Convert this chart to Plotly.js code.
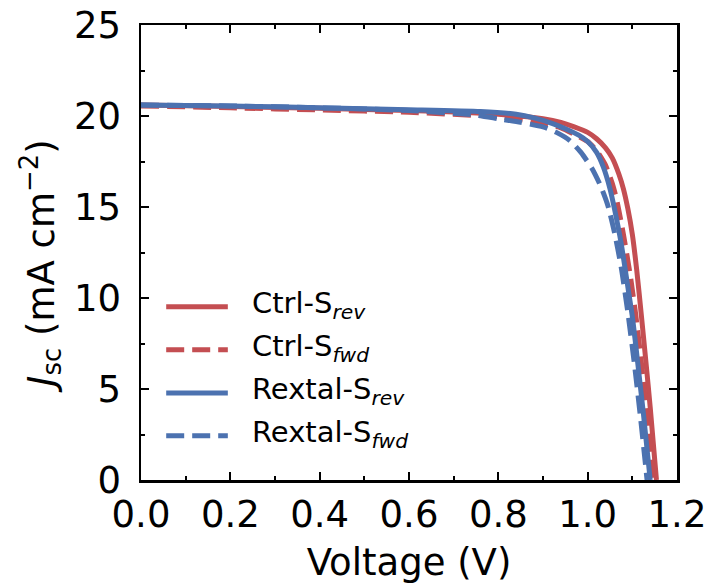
<!DOCTYPE html>
<html>
<head>
<meta charset="utf-8">
<script src="https://cdn.plot.ly/plotly-3.0.1.min.js"></script>
<style>
  html, body { margin: 0; padding: 0; background: #fff; }
  #chart { width: 712px; height: 587px; }
</style>
</head>
<body>
<div id="chart"></div>
<script>
// J-V curves, reverse and forward scans for the two device types
const ctrlRevV = [0, 0.2, 0.4, 0.6, 0.8, 0.9, 0.94, 0.97, 1.0, 1.02, 1.04, 1.055, 1.07, 1.08, 1.09, 1.10, 1.11, 1.12, 1.13, 1.14, 1.154];
const ctrlRevJ = [20.6, 20.52, 20.42, 20.3, 20.1, 19.85, 19.65, 19.4, 19.1, 18.75, 18.25, 17.7, 16.8, 16.0, 14.9, 13.5, 11.5, 9.1, 6.6, 4.0, 0];

const ctrlFwdV = [0, 0.2, 0.4, 0.6, 0.8, 0.9, 0.94, 0.97, 1.0, 1.02, 1.04, 1.055, 1.065, 1.08, 1.095, 1.108, 1.12, 1.132, 1.147];
const ctrlFwdJ = [20.55, 20.45, 20.33, 20.2, 19.95, 19.6, 19.35, 19.0, 18.6, 18.1, 17.3, 16.3, 15.4, 13.5, 11.3, 9.0, 6.5, 3.7, 0];

const rextalRevV = [0, 0.2, 0.4, 0.6, 0.76, 0.84, 0.88, 0.92, 0.95, 0.98, 1.0, 1.02, 1.035, 1.05, 1.06, 1.075, 1.09, 1.101, 1.115, 1.125, 1.14];
const rextalRevJ = [20.6, 20.55, 20.45, 20.35, 20.25, 20.1, 19.9, 19.6, 19.3, 18.95, 18.6, 18.0, 17.2, 16.0, 14.9, 13.0, 10.6, 8.8, 5.8, 3.6, 0];

const rextalFwdV = [0, 0.2, 0.4, 0.6, 0.75, 0.8, 0.85, 0.9, 0.93, 0.96, 0.985, 1.01, 1.03, 1.045, 1.06, 1.075, 1.09, 1.105, 1.118, 1.133];
const rextalFwdJ = [20.6, 20.55, 20.45, 20.3, 20.05, 19.85, 19.65, 19.4, 19.1, 18.65, 18.0, 17.1, 16.1, 15.1, 13.6, 11.7, 9.2, 6.3, 3.5, 0];

const seriesNames = ['Ctrl-S<sub><i>rev</i></sub>', 'Ctrl-S<sub><i>fwd</i></sub>',
                     'Rextal-S<sub><i>rev</i></sub>', 'Rextal-S<sub><i>fwd</i></sub>'];

const xTitle = 'Voltage (V)';
const yTitle = '<i>J</i><sub>sc</sub> (mA cm<sup>−2</sup>)';

const RED = '#C44E52';
const BLUE = '#4C72B0';
const LW = 5;
const DASH = '18px,8px';
const FONT = 'DejaVu Sans, sans-serif';

const styles = [
  { color: RED, dash: 'solid' },
  { color: RED, dash: DASH },
  { color: BLUE, dash: 'solid' },
  { color: BLUE, dash: DASH }
];
const xs = [ctrlRevV, ctrlFwdV, rextalRevV, rextalFwdV];
const ys = [ctrlRevJ, ctrlFwdJ, rextalRevJ, rextalFwdJ];

const traces = xs.map((x, i) => ({
  x: x, y: ys[i], type: 'scatter', mode: 'lines', name: seriesNames[i],
  line: { color: styles[i].color, width: LW, dash: styles[i].dash, shape: 'spline', smoothing: 0.6 },
  showlegend: false
}));

// hand-placed legend (longer line samples than the built-in one)
const legendY = [0.381, 0.286, 0.191, 0.097];
const shapes = [];
const annotations = [];
legendY.forEach((y, i) => {
  shapes.push({
    type: 'line', xref: 'paper', yref: 'paper',
    x0: 0.047, x1: 0.162, y0: y, y1: y,
    line: { color: styles[i].color, width: LW, dash: styles[i].dash }
  });
  annotations.push({
    xref: 'paper', yref: 'paper', x: 0.204, y: y, xanchor: 'left', yanchor: 'middle',
    yshift: 2, text: seriesNames[i], showarrow: false,
    font: { family: FONT, size: 29, color: '#000' }
  });
});

// y-axis title placed as a rotated annotation
annotations.push({
  xref: 'paper', yref: 'paper', x: -0.188, y: 0.47, xanchor: 'center', yanchor: 'middle',
  textangle: -90, text: yTitle, showarrow: false,
  font: { family: FONT, size: 37, color: '#000' }
});

const axisCommon = {
  showgrid: false, zeroline: false,
  showline: true, linecolor: '#000', linewidth: 2.5, mirror: 'ticks',
  ticks: 'inside', ticklen: 8, tickwidth: 2, tickcolor: '#000',
  tickfont: { family: FONT, size: 37, color: '#000' }
};

const layout = {
  width: 712, height: 587,
  margin: { l: 141, r: 35, t: 25, b: 107 },
  paper_bgcolor: '#fff', plot_bgcolor: '#fff',
  font: { family: FONT, color: '#000' },
  xaxis: Object.assign({}, axisCommon, {
    range: [0, 1.2], dtick: 0.2, tickformat: '.1f',
    minor: { dtick: 0.1, ticks: 'inside', ticklen: 4, tickwidth: 2, tickcolor: '#000' },
    title: { text: xTitle, font: { family: FONT, size: 37, color: '#000' }, standoff: 14 }
  }),
  yaxis: Object.assign({}, axisCommon, {
    range: [0, 25], dtick: 5, ticklabelstandoff: 10,
    minor: { dtick: 2.5, ticks: 'inside', ticklen: 4, tickwidth: 2, tickcolor: '#000' }
  }),
  shapes: shapes,
  annotations: annotations,
  showlegend: false
};

Plotly.newPlot('chart', traces, layout, { staticPlot: true, displayModeBar: false });
</script>
</body>
</html>
